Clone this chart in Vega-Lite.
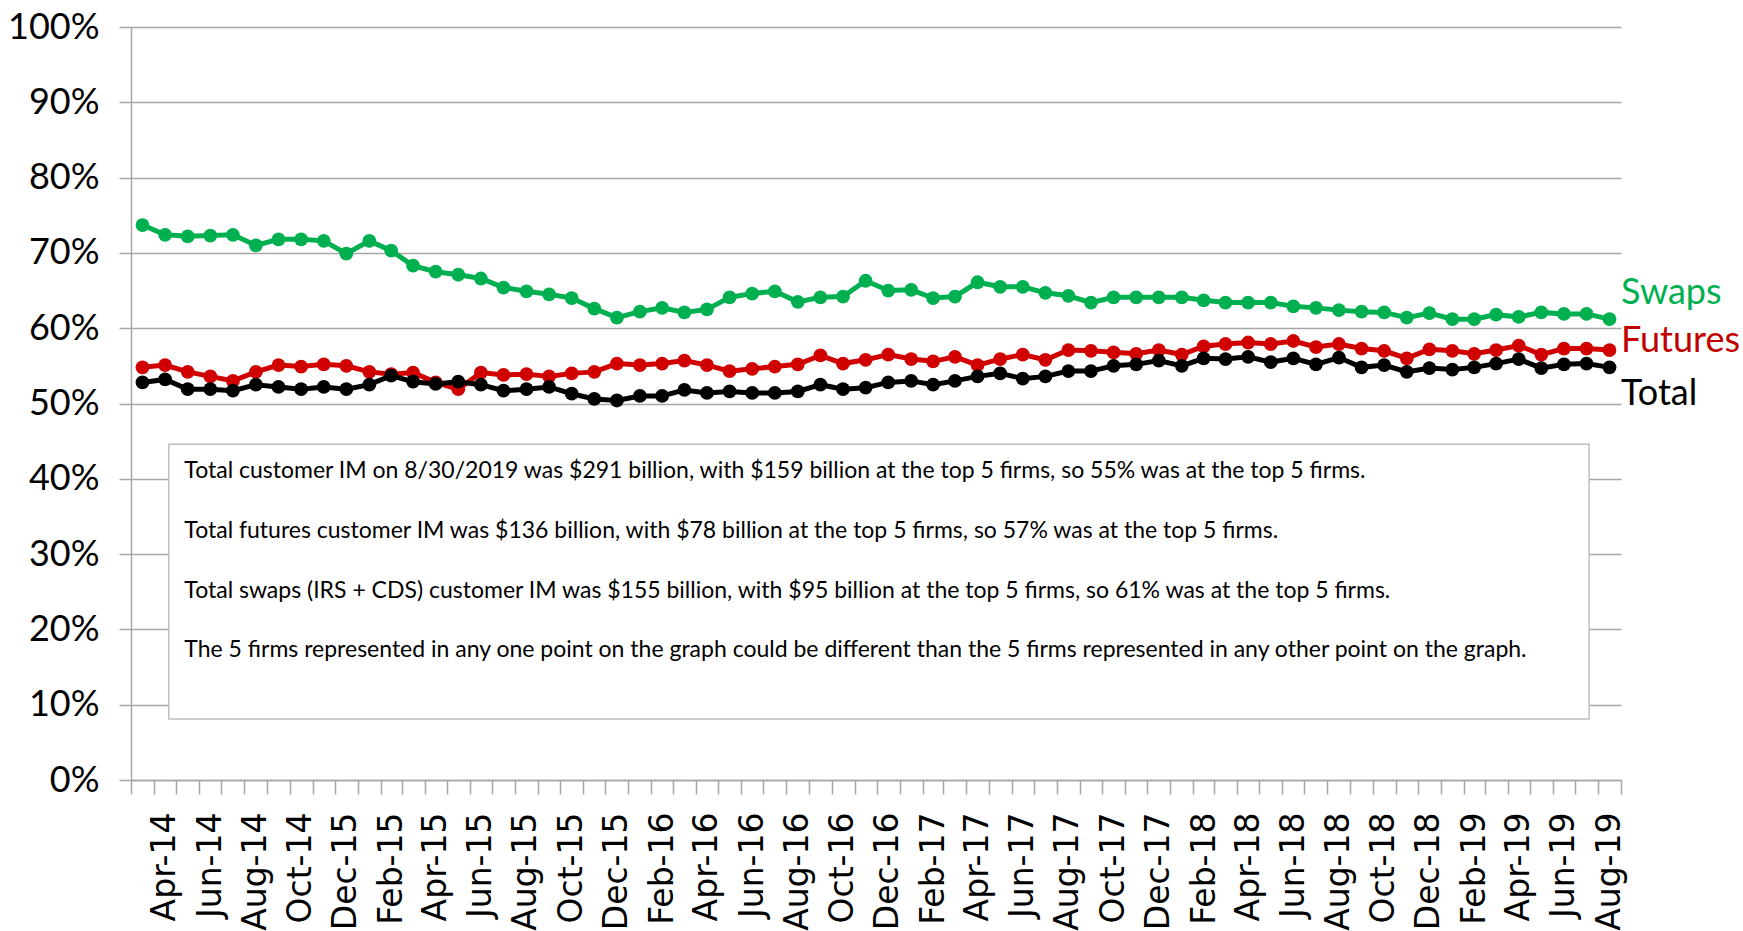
{
  "$schema": "https://vega.github.io/schema/vega-lite/v6.json",
  "width": 1490,
  "height": 753,
  "autosize": {"type": "none"},
  "padding": {"left": 131, "top": 27, "right": 122, "bottom": 151},
  "background": "white",
  "config": {"view": {"stroke": null}},
  "datasets": {
    "im": [
      {"month": "2014-03-01", "Swaps": 0.737, "Futures": 0.548, "Total": 0.528},
      {"month": "2014-04-01", "Swaps": 0.724, "Futures": 0.551, "Total": 0.532},
      {"month": "2014-05-01", "Swaps": 0.722, "Futures": 0.542, "Total": 0.519},
      {"month": "2014-06-01", "Swaps": 0.723, "Futures": 0.536, "Total": 0.519},
      {"month": "2014-07-01", "Swaps": 0.724, "Futures": 0.530, "Total": 0.517},
      {"month": "2014-08-01", "Swaps": 0.710, "Futures": 0.542, "Total": 0.525},
      {"month": "2014-09-01", "Swaps": 0.718, "Futures": 0.551, "Total": 0.522},
      {"month": "2014-10-01", "Swaps": 0.718, "Futures": 0.549, "Total": 0.519},
      {"month": "2014-11-01", "Swaps": 0.716, "Futures": 0.552, "Total": 0.522},
      {"month": "2014-12-01", "Swaps": 0.699, "Futures": 0.550, "Total": 0.519},
      {"month": "2015-01-01", "Swaps": 0.716, "Futures": 0.542, "Total": 0.525},
      {"month": "2015-02-01", "Swaps": 0.703, "Futures": 0.539, "Total": 0.537},
      {"month": "2015-03-01", "Swaps": 0.683, "Futures": 0.541, "Total": 0.529},
      {"month": "2015-04-01", "Swaps": 0.675, "Futures": 0.528, "Total": 0.526},
      {"month": "2015-05-01", "Swaps": 0.671, "Futures": 0.519, "Total": 0.529},
      {"month": "2015-06-01", "Swaps": 0.666, "Futures": 0.541, "Total": 0.525},
      {"month": "2015-07-01", "Swaps": 0.654, "Futures": 0.538, "Total": 0.517},
      {"month": "2015-08-01", "Swaps": 0.649, "Futures": 0.539, "Total": 0.519},
      {"month": "2015-09-01", "Swaps": 0.645, "Futures": 0.536, "Total": 0.522},
      {"month": "2015-10-01", "Swaps": 0.640, "Futures": 0.540, "Total": 0.513},
      {"month": "2015-11-01", "Swaps": 0.626, "Futures": 0.542, "Total": 0.506},
      {"month": "2015-12-01", "Swaps": 0.614, "Futures": 0.553, "Total": 0.504},
      {"month": "2016-01-01", "Swaps": 0.622, "Futures": 0.551, "Total": 0.510},
      {"month": "2016-02-01", "Swaps": 0.627, "Futures": 0.553, "Total": 0.510},
      {"month": "2016-03-01", "Swaps": 0.621, "Futures": 0.557, "Total": 0.518},
      {"month": "2016-04-01", "Swaps": 0.625, "Futures": 0.551, "Total": 0.514},
      {"month": "2016-05-01", "Swaps": 0.641, "Futures": 0.543, "Total": 0.516},
      {"month": "2016-06-01", "Swaps": 0.646, "Futures": 0.546, "Total": 0.514},
      {"month": "2016-07-01", "Swaps": 0.649, "Futures": 0.549, "Total": 0.514},
      {"month": "2016-08-01", "Swaps": 0.635, "Futures": 0.552, "Total": 0.516},
      {"month": "2016-09-01", "Swaps": 0.641, "Futures": 0.564, "Total": 0.525},
      {"month": "2016-10-01", "Swaps": 0.642, "Futures": 0.553, "Total": 0.519},
      {"month": "2016-11-01", "Swaps": 0.663, "Futures": 0.558, "Total": 0.521},
      {"month": "2016-12-01", "Swaps": 0.650, "Futures": 0.565, "Total": 0.528},
      {"month": "2017-01-01", "Swaps": 0.651, "Futures": 0.559, "Total": 0.530},
      {"month": "2017-02-01", "Swaps": 0.640, "Futures": 0.556, "Total": 0.525},
      {"month": "2017-03-01", "Swaps": 0.642, "Futures": 0.562, "Total": 0.530},
      {"month": "2017-04-01", "Swaps": 0.661, "Futures": 0.551, "Total": 0.536},
      {"month": "2017-05-01", "Swaps": 0.655, "Futures": 0.559, "Total": 0.540},
      {"month": "2017-06-01", "Swaps": 0.655, "Futures": 0.565, "Total": 0.533},
      {"month": "2017-07-01", "Swaps": 0.647, "Futures": 0.558, "Total": 0.536},
      {"month": "2017-08-01", "Swaps": 0.643, "Futures": 0.571, "Total": 0.543},
      {"month": "2017-09-01", "Swaps": 0.634, "Futures": 0.570, "Total": 0.543},
      {"month": "2017-10-01", "Swaps": 0.641, "Futures": 0.568, "Total": 0.550},
      {"month": "2017-11-01", "Swaps": 0.641, "Futures": 0.566, "Total": 0.552},
      {"month": "2017-12-01", "Swaps": 0.641, "Futures": 0.571, "Total": 0.557},
      {"month": "2018-01-01", "Swaps": 0.641, "Futures": 0.565, "Total": 0.550},
      {"month": "2018-02-01", "Swaps": 0.637, "Futures": 0.576, "Total": 0.560},
      {"month": "2018-03-01", "Swaps": 0.634, "Futures": 0.579, "Total": 0.559},
      {"month": "2018-04-01", "Swaps": 0.634, "Futures": 0.581, "Total": 0.562},
      {"month": "2018-05-01", "Swaps": 0.634, "Futures": 0.579, "Total": 0.555},
      {"month": "2018-06-01", "Swaps": 0.629, "Futures": 0.583, "Total": 0.560},
      {"month": "2018-07-01", "Swaps": 0.627, "Futures": 0.575, "Total": 0.552},
      {"month": "2018-08-01", "Swaps": 0.624, "Futures": 0.579, "Total": 0.561},
      {"month": "2018-09-01", "Swaps": 0.622, "Futures": 0.573, "Total": 0.548},
      {"month": "2018-10-01", "Swaps": 0.621, "Futures": 0.570, "Total": 0.551},
      {"month": "2018-11-01", "Swaps": 0.614, "Futures": 0.560, "Total": 0.542},
      {"month": "2018-12-01", "Swaps": 0.620, "Futures": 0.572, "Total": 0.547},
      {"month": "2019-01-01", "Swaps": 0.612, "Futures": 0.570, "Total": 0.545},
      {"month": "2019-02-01", "Swaps": 0.612, "Futures": 0.566, "Total": 0.548},
      {"month": "2019-03-01", "Swaps": 0.618, "Futures": 0.571, "Total": 0.553},
      {"month": "2019-04-01", "Swaps": 0.615, "Futures": 0.577, "Total": 0.559},
      {"month": "2019-05-01", "Swaps": 0.621, "Futures": 0.565, "Total": 0.547},
      {"month": "2019-06-01", "Swaps": 0.619, "Futures": 0.573, "Total": 0.552},
      {"month": "2019-07-01", "Swaps": 0.619, "Futures": 0.573, "Total": 0.553},
      {"month": "2019-08-01", "Swaps": 0.612, "Futures": 0.571, "Total": 0.548}
    ],
    "notes": [
      {"note": [
        "Total customer IM on 8/30/2019  was $291  billion, with $159  billion at the top 5 firms, so 55%  was at the top 5 firms.",
        "Total futures customer IM was $136  billion, with $78 billion at the top 5 firms, so 57%  was at the top 5 firms.",
        "Total swaps (IRS + CDS) customer IM was $155  billion, with $95 billion at the top 5 firms, so 61%  was at the top 5 firms.",
        "The 5 firms represented in any one point on the graph could be different than the 5 firms represented in any other point on the graph."
      ]}
    ]
  },
  "layer": [
    {
      "data": {"name": "im"},
      "transform": [{"fold": ["Swaps", "Futures", "Total"], "as": ["series", "share"]}],
      "mark": {"type": "line", "strokeWidth": 5, "point": {"filled": true, "size": 190}},
      "encoding": {
        "x": {
          "field": "month", "type": "temporal", "timeUnit": "utcyearmonth", "bandPosition": 0.5,
          "scale": {"type": "utc", "nice": false, "domain": [{"year": 2014, "month": 3, "date": 1, "utc": true}, {"year": 2019, "month": 9, "date": 1, "utc": true}]},
          "axis": {
            "title": null,
            "tickCount": {"interval": "month", "step": 1},
            "domain": true, "domainColor": "#A6A6A6", "domainWidth": 1.5,
            "ticks": true, "tickColor": "#A6A6A6", "tickWidth": 1.5, "tickSize": 14,
            "grid": false,
            "labelAngle": -90, "labelAlign": "right", "labelBaseline": "middle",
            "labelFont": "DejaVu Sans", "labelFontSize": 33, "labelColor": "#000000",
            "labelPadding": 18, "labelOverlap": false, "labelBound": false, "labelFlush": false,
            "labelOffset": 11,
            "labelExpr": "utcmonth(datum.value) % 2 == 1 ? ((utcyear(datum.value) == 2014 && utcmonth(datum.value) == 11) ? 'Dec-15' : utcFormat(datum.value, '%b-%y')) : ''"
          }
        },
        "y": {
          "field": "share", "type": "quantitative",
          "scale": {"domain": [0, 1], "nice": false},
          "axis": {
            "title": null, "format": ".0%",
            "values": [0, 0.1, 0.2, 0.3, 0.4, 0.5, 0.6, 0.7, 0.8, 0.9, 1.0],
            "grid": true, "gridColor": "#A6A6A6", "gridWidth": 1.5,
            "domain": true, "domainColor": "#A6A6A6", "domainWidth": 1.5,
            "ticks": true, "tickColor": "#A6A6A6", "tickWidth": 1.5, "tickSize": 12,
            "labelFont": "Lato", "labelFontSize": 36, "labelColor": "#000000",
            "labelPadding": 20
          }
        },
        "color": {
          "field": "series", "type": "nominal",
          "scale": {"domain": ["Swaps", "Futures", "Total"], "range": ["#00B050", "#D00000", "#000000"]},
          "legend": null
        }
      }
    },
    {
      "data": {"values": [{}]},
      "mark": {"type": "rect", "fill": "#FFFFFF", "stroke": "#BFBFBF", "strokeWidth": 1.5},
      "encoding": {
        "x": {"datum": {"year": 2014, "month": 4, "date": 21, "utc": true}, "type": "temporal"},
        "x2": {"datum": {"year": 2019, "month": 7, "date": 20, "utc": true}},
        "y": {"datum": 0.446, "type": "quantitative"},
        "y2": {"datum": 0.081}
      }
    },
    {
      "data": {"name": "notes"},
      "mark": {"type": "text", "align": "left", "baseline": "middle", "font": "Lato", "fontSize": 23, "lineHeight": 59.7, "color": "#000000"},
      "encoding": {
        "x": {"datum": {"year": 2014, "month": 5, "date": 12, "utc": true}, "type": "temporal"},
        "y": {"datum": 0.41, "type": "quantitative"},
        "text": {"field": "note", "type": "nominal"}
      }
    },
    {
      "data": {"values": [{}]},
      "mark": {"type": "text", "align": "left", "baseline": "middle", "font": "Lato", "fontSize": 36, "color": "#00B050", "text": "Swaps"},
      "encoding": {
        "x": {"datum": {"year": 2019, "month": 9, "date": 1, "utc": true}, "type": "temporal"},
        "y": {"datum": 0.647, "type": "quantitative"}
      }
    },
    {
      "data": {"values": [{}]},
      "mark": {"type": "text", "align": "left", "baseline": "middle", "font": "Lato", "fontSize": 36, "color": "#C00000", "text": "Futures"},
      "encoding": {
        "x": {"datum": {"year": 2019, "month": 9, "date": 1, "utc": true}, "type": "temporal"},
        "y": {"datum": 0.583, "type": "quantitative"}
      }
    },
    {
      "data": {"values": [{}]},
      "mark": {"type": "text", "align": "left", "baseline": "middle", "font": "Lato", "fontSize": 36, "color": "#000000", "text": "Total"},
      "encoding": {
        "x": {"datum": {"year": 2019, "month": 9, "date": 1, "utc": true}, "type": "temporal"},
        "y": {"datum": 0.513, "type": "quantitative"}
      }
    }
  ]
}
